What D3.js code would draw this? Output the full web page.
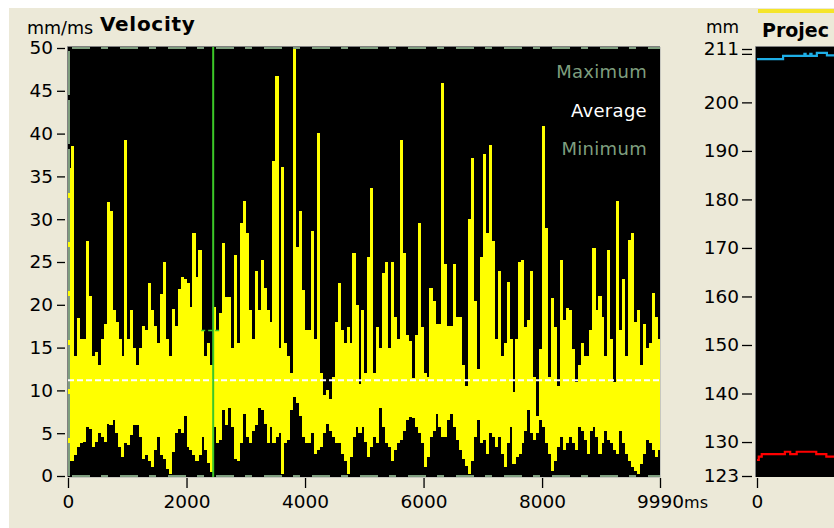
<!DOCTYPE html>
<html>
<head>
<meta charset="utf-8">
<script src="https://cdn.jsdelivr.net/npm/d3@7"></script>
<style>
  html, body { margin: 0; padding: 0; background: #fff; }
  svg { display: block; font-family: "DejaVu Sans", sans-serif; }
</style>
</head>
<body>
<svg id="chart" width="834" height="528"></svg>
<script>
// Velocity trace: one min/max pair per 50 ms bin, 0 .. 9990 ms
const sampleMs = 50;
const velocityHigh = [
  36, 38.5, 14, 18.5, 16, 16, 27.5, 21, 14, 14.5, 13, 16, 17.8, 32, 31, 19.4, 18, 16, 14, 39.3,
  16, 19.4, 15, 13, 15, 17.5, 17, 22.5, 19.4, 17.5, 15.5, 21.3, 25, 16, 14, 19.5, 17.5, 21.8, 23.3, 23,
  22.5, 19.8, 28.4, 23.3, 26.4, 17, 14, 15.5, 13,
  19.8, 17, 19, 27.2, 20.9, 20.9, 15, 25.8, 15.5, 29.6, 32.1, 28.4, 19.4, 16, 23.9, 19.4, 25.2, 22, 19.4, 18,
  36.8, 46.7, 15, 36.1, 15.5, 14, 12, 50, 26.8, 30.9, 21.7, 17, 17, 28.6, 16, 40.1, 12, 9.5, 10, 9,
  11.6, 18, 22.6, 17, 15.5, 17.4, 15.5, 26, 20, 10.8,
  19.4, 12, 25.6, 33.6, 12, 17.4, 15, 23.7, 25, 15, 25, 18.6, 16, 39.2, 26, 16.5, 15.8, 11.4, 16.5, 29.6,
  17.4, 12, 11.6, 22, 20.5, 17.8, 17.8,
  45.9, 24.8, 17.5, 17.5, 24.8, 18.6, 18.6, 13, 10.5, 30, 37.2, 20.5, 12.5, 25.6, 37.6, 28.4, 38.7, 27.4, 16, 23.9,
  14, 15.5, 22.7,
  16, 9.8, 16, 25, 25.2, 17.4, 18.2, 24, 11.6, 7, 14.8, 40.9, 29, 11.6, 20.8, 17.4, 10.5, 25.2, 18.2, 19.6,
  19.4, 14.8, 11, 13, 15.5, 14, 14, 17, 26.6, 19.4, 21, 18.6, 14, 26.4, 16, 11, 32.1, 17, 23, 14,
  27.6, 28.4, 18, 19.4, 13, 17.8, 15, 15.5, 21.4, 18.6, 16
];
const velocityLow = [
  1.8, 1.8, 2.5, 3.4, 3.8, 4, 5.7, 5.5, 3.4, 4, 5, 4.5, 4, 6.1, 6, 6.5, 5, 3.4, 2.2, 3.8,
  3.6, 4.8, 6, 6, 4.5, 2, 2.5, 1.8, 1, 3, 4.5, 2.5, 2, 0.8, 0.2, 2.8, 5, 5.5, 5, 7,
  3.4, 3, 2.5, 1.8, 2.5, 4.5, 3, 1.5, 0.5,
  5.7, 3.8, 4.2, 7.7, 6, 8, 5.7, 2, 1.8, 3.8, 7.3, 4.5, 3.8, 5.3, 6, 8, 7.7, 6.1, 3.8, 5.7,
  3.8, 4.5, 5, 0.2, 3.8, 4.2, 7.7, 9.2, 8.5, 7, 4.5, 3.8, 3.8, 5, 2.6, 3, 3.4, 5, 6.1, 5.3,
  4.5, 3.8, 3.8, 2.6, 1.8, 0.2, 2.2, 4.5, 5.7, 5,
  5.7, 4, 2.2, 3.4, 4.6, 3.8, 8, 5.7, 3.8, 3.4, 1.8, 3, 3.8, 4.2, 5.3, 6.5, 6.9, 6.8, 5.7, 5,
  3.8, 1, 2.2, 4.6, 5.3, 7.3, 5.7, 4.6, 4.6, 6.5, 7.3, 5.7, 4.2, 3, 2, 1.2, 0.2, 1.8, 4.5, 6.5,
  3.8, 4.2, 2.6, 5, 4.6, 3.4, 4.6, 2.6, 1, 3.8,
  5.7, 1.4, 2.2, 2.6, 3.8, 5.3, 7.7, 5, 4.2, 5, 6.5, 5.7, 3.8, 2.6, 0.6, 1.8, 3.4, 4.6, 3, 3.8,
  4.6, 3.8, 3, 5.7, 5.3, 4.2, 2.6, 5.3, 5.7, 4.6, 2.6, 3.8, 5.3, 4.2, 3.8, 3, 2.6, 5.3, 3.8, 2.6,
  1.8, 1, 0.6, 0.2, 1.4, 2.6, 4.2, 3.8, 3, 2.2, 3
];
const velocityMax = 50;
const velocityMin = 0;
const velocityAverage = 11.2;
const cursorTime = 2450;
const cursorValue = 17;

const velocityTicks = [0, 5, 10, 15, 20, 25, 30, 35, 40, 45, 50];
const timeTicks = [0, 2000, 4000, 6000, 8000, 9990];
const legendLabels = ["Maximum", "Average", "Minimum"];

// Projection panel: step traces (time ms, position mm)
const projTicks = [123, 130, 140, 150, 160, 170, 180, 190, 200, 210, 211];
const projLabelled = [123, 130, 140, 150, 160, 170, 180, 190, 200, 211];
const upperTime = [0, 440, 800, 820, 900, 920, 1010, 1180, 1300];
const upperPos  = [208.9, 209.6, 210.0, 209.6, 210.0, 209.6, 210.2, 209.7, 209.7];
const lowerTime = [0, 30, 80, 470, 560, 670, 1000, 1170, 1300];
const lowerPos  = [126.3, 127.0, 127.5, 128.0, 127.5, 128.0, 127.5, 127.0, 127.0];

const svg = d3.select("#chart");
const W = 834, H = 528;
const tickFont = 18.5;

// window background
svg.append("rect").attr("width", W).attr("height", H).attr("fill", "#ffffff");
svg.append("rect").attr("x", 9).attr("y", 8).attr("width", W - 9).attr("height", H - 8).attr("fill", "#ECE9D8");

// ---------- Velocity panel ----------
const x = d3.scaleLinear().domain([0, 9990]).range([68, 660]);
const y = d3.scaleLinear().domain([0, 50]).range([476, 48]);

const plot = { x0: 68, y0: 47, x1: 660, y1: 477 };
svg.append("rect")
  .attr("x", plot.x0).attr("y", plot.y0)
  .attr("width", plot.x1 - plot.x0).attr("height", plot.y1 - plot.y0)
  .attr("fill", "#000");

svg.append("clipPath").attr("id", "velClip")
  .append("rect")
  .attr("x", plot.x0).attr("y", plot.y0)
  .attr("width", plot.x1 - plot.x0).attr("height", plot.y1 - plot.y0);

const g = svg.append("g").attr("clip-path", "url(#velClip)");

const bins = velocityHigh.map((h, i) => ({ t: i * sampleMs, hi: h, lo: velocityLow[i] }));
const binW = x(sampleMs) - x(0);

g.append("g").selectAll("rect").data(bins).join("rect")
  .attr("x", d => x(d.t))
  .attr("width", binW + 0.2)
  .attr("y", d => y(d.hi))
  .attr("height", d => y(d.lo) - y(d.hi))
  .attr("fill", "#FFFF00")
  .attr("shape-rendering", "crispEdges");

const refColor = "#7E9E7E";
// maximum / minimum reference lines
[velocityMax, velocityMin].forEach(v => {
  g.append("line")
    .attr("x1", x(0)).attr("x2", x(9990))
    .attr("y1", y(v)).attr("y2", y(v))
    .attr("stroke", refColor).attr("stroke-width", 2)
    .attr("stroke-dasharray", "18,11,7,12")
    .attr("stroke-dashoffset", -4);
});
// start marker on the left edge
g.append("line")
  .attr("x1", x(0) + 1).attr("x2", x(0) + 1)
  .attr("y1", y(50) + 3).attr("y2", y(0))
  .attr("stroke", refColor).attr("stroke-width", 2)
  .attr("stroke-dasharray", "44,5");

// average line
g.append("line")
  .attr("x1", x(0)).attr("x2", x(9990))
  .attr("y1", y(velocityAverage)).attr("y2", y(velocityAverage))
  .attr("stroke", "#ffffff").attr("stroke-width", 2)
  .attr("stroke-dasharray", "6,3");

// cursor
g.append("line")
  .attr("x1", x(cursorTime)).attr("x2", x(cursorTime))
  .attr("y1", plot.y0).attr("y2", plot.y1)
  .attr("stroke", "#3CC828").attr("stroke-width", 2);
g.append("line")
  .attr("x1", x(cursorTime) - 12).attr("x2", x(cursorTime) + 9)
  .attr("y1", y(cursorValue)).attr("y2", y(cursorValue))
  .attr("stroke", "#3CC828").attr("stroke-width", 1.5)
  .attr("stroke-dasharray", "4,3");

// legend
const legendColors = [refColor, "#ffffff", refColor];
svg.append("g").selectAll("text").data(legendLabels).join("text")
  .attr("x", 647)
  .attr("y", (d, i) => 78 + i * 38.5)
  .attr("text-anchor", "end")
  .attr("font-size", 18)
  .attr("letter-spacing", 0.3)
  .attr("fill", (d, i) => legendColors[i])
  .text(d => d);

// panel frame (sunken)
svg.append("path").attr("d", `M${plot.x0 - 0.5},${plot.y1}V${plot.y0 - 0.5}H${plot.x1}`)
  .attr("fill", "none").attr("stroke", "#808080").attr("stroke-width", 1);
svg.append("path").attr("d", `M${plot.x1 + 0.5},${plot.y0}V${plot.y1 + 0.5}H${plot.x0}`)
  .attr("fill", "none").attr("stroke", "#C8C8C0").attr("stroke-width", 1);

// axes
const yAxis = svg.append("g")
  .attr("transform", "translate(65,0)")
  .call(d3.axisLeft(y).tickValues(velocityTicks).tickSize(8).tickPadding(4));
const xAxis = svg.append("g")
  .attr("transform", `translate(0,${plot.y1 + 1})`)
  .call(d3.axisBottom(x).tickValues(timeTicks).tickSize(10).tickPadding(7).tickFormat(d3.format("d")));

[yAxis, xAxis].forEach(a => {
  a.select(".domain").remove();
  a.selectAll("line").attr("stroke", "#000").attr("stroke-width", 1.3);
  a.selectAll("text").attr("font-size", tickFont).attr("fill", "#000")
    .attr("font-family", "DejaVu Sans, sans-serif");
});

// unit suffix on the last time label
const lastLbl = xAxis.selectAll(".tick text").filter(d => d === 9990);
const lw = lastLbl.node().getComputedTextLength();
lastLbl.attr("text-anchor", "start").attr("x", -lw / 2);
lastLbl.append("tspan").attr("font-size", 16).text("ms");

// titles
svg.append("text").attr("x", 27).attr("y", 34).attr("font-size", 17.5).attr("fill", "#000").text("mm/ms");
svg.append("text").attr("x", 100).attr("y", 31).attr("font-size", 20).attr("font-weight", "bold")
  .attr("letter-spacing", 0.7).attr("fill", "#000").text("Velocity");

// ---------- Projection panel ----------
const xr = d3.scaleLinear().domain([0, 9990]).range([757, 757 + 592]);
const yr = d3.scaleLinear().domain([123, 211]).range([476, 49]);
const rp = { x0: 756, y0: 47, y1: 477 };

svg.append("rect").attr("x", 758).attr("y", 9).attr("width", W - 758).attr("height", 4).attr("fill", "#F5E52A");

svg.append("rect").attr("x", rp.x0).attr("y", rp.y0)
  .attr("width", W - rp.x0).attr("height", rp.y1 - rp.y0).attr("fill", "#000");
svg.append("path").attr("d", `M${rp.x0 - 0.5},${rp.y1}V${rp.y0 - 0.5}H${W}`)
  .attr("fill", "none").attr("stroke", "#808080");

const stepLine = d3.line().curve(d3.curveStepAfter).x(d => xr(d[0])).y(d => yr(d[1]));
svg.append("path").datum(upperTime.map((t, i) => [t, upperPos[i]]))
  .attr("d", stepLine).attr("fill", "none").attr("stroke", "#1EAEE6").attr("stroke-width", 2.2);
svg.append("path").datum(lowerTime.map((t, i) => [t, lowerPos[i]]))
  .attr("d", stepLine).attr("fill", "none").attr("stroke", "#FF0000").attr("stroke-width", 2.2);

const ryAxis = svg.append("g")
  .attr("transform", "translate(752,0)")
  .call(d3.axisLeft(yr).tickValues(projTicks).tickSize(10).tickPadding(3)
    .tickFormat(d => projLabelled.includes(d) ? d : ""));
const rxAxis = svg.append("g")
  .attr("transform", `translate(0,${rp.y1 + 1})`)
  .call(d3.axisBottom(xr).tickValues([0]).tickSize(10).tickPadding(7));
[ryAxis, rxAxis].forEach(a => {
  a.select(".domain").remove();
  a.selectAll("line").attr("stroke", "#000").attr("stroke-width", 1.3);
  a.selectAll("text").attr("font-size", tickFont).attr("fill", "#000")
    .attr("font-family", "DejaVu Sans, sans-serif");
});

svg.append("text").attr("x", 706).attr("y", 33).attr("font-size", 17).attr("fill", "#000").text("mm");
svg.append("text").attr("x", 762).attr("y", 37).attr("font-size", 19).attr("font-weight", "bold")
  .attr("fill", "#000").text("Projec");
</script>
</body>
</html>
